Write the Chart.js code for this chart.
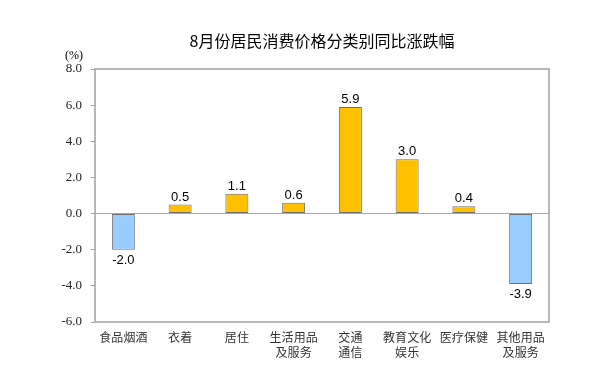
<!DOCTYPE html>
<html>
<head>
<meta charset="utf-8">
<script src="https://cdn.jsdelivr.net/npm/chart.js@4.4.0/dist/chart.umd.min.js"></script>
<style>
  html, body { margin: 0; padding: 0; background: #fff; }
  #wrap { width: 610px; height: 389px; position: relative; }
</style>
</head>
<body>
<div id="wrap"><canvas id="cpiChart"></canvas></div>
<script>
// 8月份居民消费价格分类别同比涨跌幅
const TITLE = '8月份居民消费价格分类别同比涨跌幅';
const UNIT = '(%)';
const categories = [
  '食品烟酒', '衣着', '居住', ['生活用品', '及服务'],
  ['交通', '通信'], ['教育文化', '娱乐'], '医疗保健', ['其他用品', '及服务']
];
const values = [-2.0, 0.5, 1.1, 0.6, 5.9, 3.0, 0.4, -3.9];
const yTicks = [-6, -4, -2, 0, 2, 4, 6, 8];

const POS_COLOR = '#FFC000';
const NEG_COLOR = '#99CCFF';
const SERIF = '"Liberation Serif", "Times New Roman", "DejaVu Serif", serif';

// title, unit label, frame and value labels
const decor = {
  id: 'decor',
  afterDraw(chart) {
    const { ctx, chartArea: a } = chart;
    ctx.save();
    // frame
    ctx.strokeStyle = '#a0a0a0';
    ctx.lineWidth = 1.5;
    ctx.strokeRect(a.left, a.top, a.right - a.left, a.bottom - a.top);
    // title
    ctx.fillStyle = '#000';
    ctx.font = '16px "Noto Sans CJK SC"';
    ctx.textAlign = 'center';
    ctx.textBaseline = 'middle';
    ctx.fillText(TITLE, (a.left + a.right) / 2, 41);
    // unit
    ctx.font = '12px ' + SERIF;
    ctx.fillText(UNIT, 74, 56);
    // value labels
    ctx.font = '13px "Liberation Sans", Arial, sans-serif';
    const meta = chart.getDatasetMeta(0);
    meta.data.forEach((bar, i) => {
      const v = values[i];
      if (v >= 0) {
        ctx.textBaseline = 'bottom';
        ctx.fillText(v.toFixed(1), bar.x, bar.y - 1);
      } else {
        ctx.textBaseline = 'top';
        ctx.fillText(v.toFixed(1), bar.x, bar.y + 4);
      }
    });
    ctx.restore();
  }
};

new Chart(document.getElementById('cpiChart').getContext('2d'), {
  type: 'bar',
  data: {
    labels: categories,
    datasets: [{
      data: values,
      backgroundColor: values.map(v => v >= 0 ? POS_COLOR : NEG_COLOR),
      borderColor: '#707070',
      borderWidth: 1,
      borderSkipped: false,
      barPercentage: 0.405,
      categoryPercentage: 1.0
    }]
  },
  options: {
    responsive: true,
    maintainAspectRatio: false,
    animation: false,
    layout: { padding: { top: 69, right: 61, bottom: 0, left: 0 } },
    plugins: { legend: { display: false }, tooltip: { enabled: false } },
    scales: {
      x: {
        grid: { display: false, drawTicks: false },
        border: { display: false },
        ticks: {
          color: '#333',
          padding: 8,
          maxRotation: 0,
          autoSkip: false,
          font: { family: '"Noto Sans CJK SC"', size: 12, lineHeight: 1.25 }
        },
        afterFit(s) { s.height = 67; }
      },
      y: {
        min: -6,
        max: 8,
        afterBuildTicks(s) { s.ticks = yTicks.map(v => ({ value: v })); },
        grid: {
          color: c => c.tick && c.tick.value === 0 ? '#a8a8a8' : 'rgba(0,0,0,0)',
          tickColor: '#a0a0a0',
          tickLength: 4,
          lineWidth: 1
        },
        border: { display: false },
        ticks: {
          color: '#222',
          padding: 9,
          font: { family: SERIF, size: 13 },
          callback: v => v.toFixed(1)
        },
        afterFit(s) { s.width = 95; }
      }
    }
  },
  plugins: [decor]
});
</script>
</body>
</html>
